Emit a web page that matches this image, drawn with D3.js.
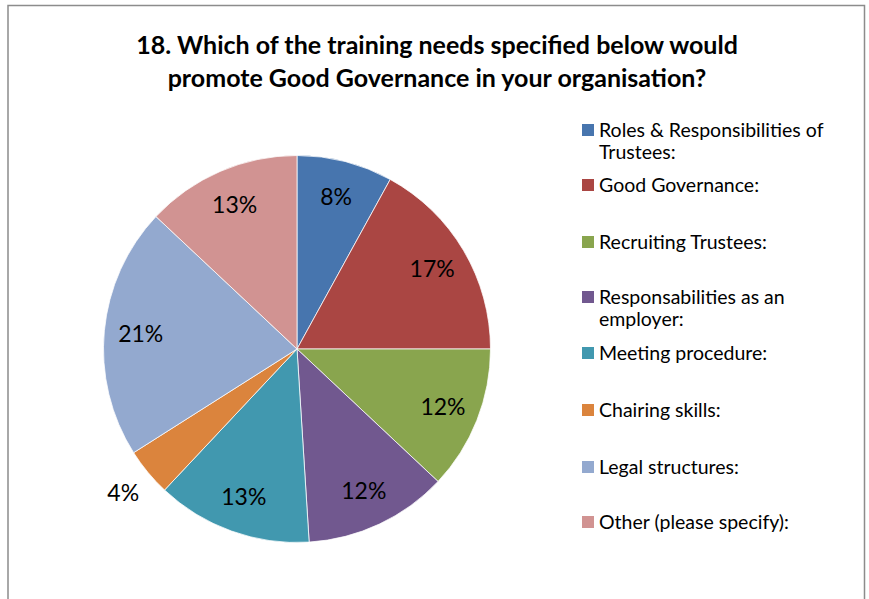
<!DOCTYPE html>
<html>
<head>
<meta charset="utf-8">
<script src="https://cdn.jsdelivr.net/npm/d3@7"></script>
<style>
  html, body { margin: 0; padding: 0; background: #fff; }
  svg { display: block; }
  text { font-family: Lato, "Open Sans", sans-serif; fill: #000; }
</style>
</head>
<body>
<svg id="chart" width="869" height="599"></svg>
<script>
// Survey answers, question 18 (share of respondents, %)
const categories = [
  "Roles & Responsibilities of Trustees:",
  "Good Governance:",
  "Recruiting Trustees:",
  "Responsabilities as an employer:",
  "Meeting procedure:",
  "Chairing skills:",
  "Legal structures:",
  "Other (please specify):"
];
const values = [8, 17, 12, 12, 13, 4, 21, 13];
const colors = ["#4775AE", "#AA4643", "#89A54E", "#71588F", "#4198AF", "#DB843D", "#93A9CF", "#D19392"];
const legendLines = [
  ["Roles & Responsibilities of", "Trustees:"],
  ["Good Governance:"],
  ["Recruiting Trustees:"],
  ["Responsabilities as an", "employer:"],
  ["Meeting procedure:"],
  ["Chairing skills:"],
  ["Legal structures:"],
  ["Other (please specify):"]
];
const titleLines = [
  "18. Which of the training needs specified below would",
  "promote Good Governance in your organisation?"
];

const svg = d3.select("#chart");

// Chart area frame (bottom edge runs off the page)
svg.append("path")
  .attr("d", "M8,605 L8,5.5 L864.5,5.5 L864.5,605")
  .attr("fill", "none")
  .attr("stroke", "#8c8c8c")
  .attr("stroke-width", 1.5);

// Title
svg.append("g").selectAll("text")
  .data(titleLines)
  .join("text")
  .attr("x", 437)
  .attr("y", (d, i) => 54 + i * 33)
  .attr("text-anchor", "middle")
  .attr("font-size", 25)
  .attr("font-weight", "bold")
  .text(d => d);

// Pie
const cx = 297, cy = 349, R = 193.5;
const pie = d3.pie().sort(null).value(d => d.v);
const arcs = pie(values.map((v, i) => ({ v, i })));
const arc = d3.arc().innerRadius(0).outerRadius(R);

const g = svg.append("g").attr("transform", `translate(${cx},${cy})`);
g.selectAll("path")
  .data(arcs)
  .join("path")
  .attr("d", arc)
  .attr("fill", d => colors[d.data.i])
  .attr("stroke", "#fff")
  .attr("stroke-width", 0.75);

// Percentage labels: inside the slice, or just outside for thin slices
g.selectAll("text.lbl")
  .data(arcs)
  .join("text")
  .attr("class", "lbl")
  .attr("transform", d => {
    const r = d.data.v < 6 ? R + 32 : 157;
    const a = (d.startAngle + d.endAngle) / 2;
    return `translate(${r * Math.sin(a)},${-r * Math.cos(a)})`;
  })
  .attr("text-anchor", "middle")
  .attr("dy", "0.35em")
  .attr("font-size", 23)
  .text(d => d3.format(".0f")(d.data.v) + "%");

// Legend
const legendTops = [130, 185, 242, 297, 353, 410, 467, 522];
const lg = svg.append("g");
const items = lg.selectAll("g")
  .data(categories.map((c, i) => ({ c, i })))
  .join("g")
  .attr("transform", d => `translate(582,${legendTops[d.i]})`);
items.append("rect")
  .attr("x", 0).attr("y", -6)
  .attr("width", 12).attr("height", 12)
  .attr("fill", d => colors[d.i]);
items.append("text")
  .attr("x", 17)
  .attr("font-size", 19.5)
  .selectAll("tspan")
  .data(d => legendLines[d.i])
  .join("tspan")
  .attr("x", 17)
  .attr("y", (d, j) => j * 22)
  .attr("dy", "0.35em")
  .text(d => d);
</script>
</body>
</html>
